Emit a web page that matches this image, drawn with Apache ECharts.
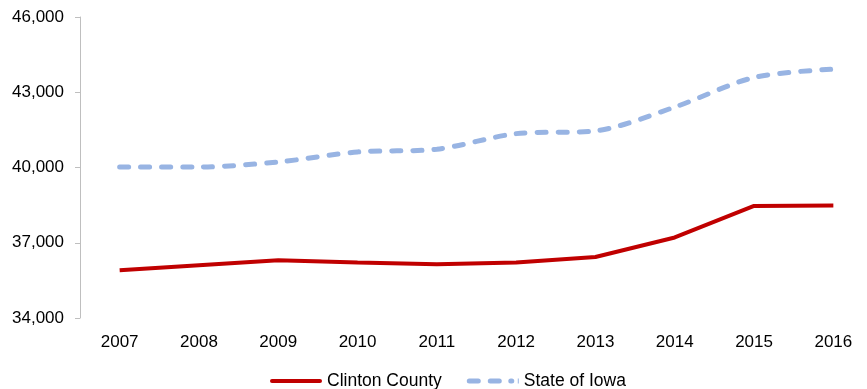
<!DOCTYPE html>
<html>
<head>
<meta charset="utf-8">
<script src="https://cdn.jsdelivr.net/npm/echarts@6/dist/echarts.min.js"></script>
<style>html,body{margin:0;padding:0;background:#fff;overflow:hidden}#c{width:873px;height:389px}</style>
</head>
<body>
<div id="c"></div>
<script>
const years = ['2007','2008','2009','2010','2011','2012','2013','2014','2015','2016'];
const clinton = [35900, 36100, 36300, 36210, 36140, 36210, 36430, 37210, 38470, 38490];
const iowa = [40020, 40020, 40220, 40620, 40730, 41350, 41460, 42410, 43590, 43920];
const seriesNames = ['Clinton County', 'State of Iowa'];

const chart = echarts.init(document.getElementById('c'), null, {renderer: 'canvas'});
const font = 'Liberation Sans';
chart.setOption({
  animation: false,
  backgroundColor: '#fff',
  grid: {left: 80, top: 17, bottom: 71, right: 0, containLabel: false},
  xAxis: {
    type: 'category', data: years, boundaryGap: true,
    axisLine: {show: false}, axisTick: {show: false},
    axisLabel: {color: '#000', fontFamily: font, fontSize: 17, margin: 16}
  },
  yAxis: {
    type: 'value', min: 34000, max: 46000, interval: 3000,
    splitLine: {show: false},
    axisLine: {show: true, lineStyle: {color: '#BFBFBF', width: 1}},
    axisTick: {show: true, length: 5, lineStyle: {color: '#BFBFBF'}},
    axisLabel: {color: '#000', fontFamily: font, fontSize: 17, margin: 16,
      formatter: v => v.toLocaleString('en-US')}
  },
  legend: {
    top: 372, left: 270, padding: 0, itemWidth: 52, itemHeight: 5, itemGap: 25,
    textStyle: {color: '#000', fontFamily: font, fontSize: 17.5, padding: [0,0,0,0]},
    data: [
      {name: seriesNames[0], icon: 'path://M2,0H50A2,2 0 0 1 50,4H2A2,2 0 0 1 2,0Z'},
      {name: seriesNames[1], icon: 'path://M2.5,0H11.5A2.5,2.5 0 0 1 11.5,5H2.5A2.5,2.5 0 0 1 2.5,0Z M23.5,0H32.5A2.5,2.5 0 0 1 32.5,5H23.5A2.5,2.5 0 0 1 23.5,0Z M44,0H45A2.5,2.5 0 0 1 45,5H44A2.5,2.5 0 0 1 44,0Z M51,0L52,0L52,5L51,5Z'}
    ]
  },
  series: [
    {name: seriesNames[0], type: 'line', data: clinton, symbol: 'none',
     lineStyle: {color: '#C00000', width: 4}, itemStyle: {color: '#C00000'}},
    {name: seriesNames[1], type: 'line', data: iowa, symbol: 'none', smooth: 0.3,
     lineStyle: {color: '#98B4E3', width: 5, type: [9, 12], cap: 'round'}, itemStyle: {color: '#98B4E3'}}
  ]
});
</script>
</body>
</html>
